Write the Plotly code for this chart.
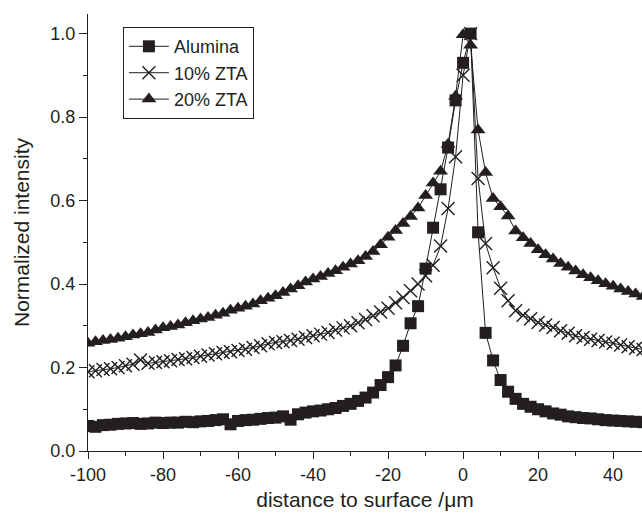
import plotly.graph_objects as go

x_um = [-100 + 2 * i for i in range(75)]  # -100 ... 48

alumina = [0.060, 0.058, 0.062, 0.063, 0.065, 0.066, 0.067, 0.065, 0.066, 0.068,
           0.067, 0.068, 0.068, 0.070, 0.069, 0.071, 0.072, 0.074, 0.076, 0.064,
           0.072, 0.074, 0.075, 0.077, 0.079, 0.080, 0.083, 0.075, 0.088, 0.092,
           0.095, 0.097, 0.100, 0.103, 0.108, 0.113, 0.120, 0.128, 0.140, 0.158,
           0.177, 0.205, 0.252, 0.306, 0.347, 0.437, 0.535, 0.627, 0.727, 0.840,
           0.930, 1.000, 0.524, 0.283, 0.217, 0.170, 0.142, 0.125, 0.113, 0.106,
           0.100, 0.095, 0.090, 0.087, 0.083, 0.081, 0.079, 0.078, 0.076, 0.074,
           0.073, 0.072, 0.071, 0.070, 0.069]

zta10 = [0.190, 0.192, 0.195, 0.197, 0.200, 0.204, 0.208, 0.218, 0.210, 0.212,
         0.214, 0.216, 0.219, 0.221, 0.224, 0.227, 0.230, 0.233, 0.236, 0.238,
         0.241, 0.244, 0.248, 0.252, 0.257, 0.260, 0.262, 0.265, 0.268, 0.272,
         0.276, 0.280, 0.284, 0.290, 0.295, 0.300, 0.307, 0.315, 0.324, 0.333,
         0.342, 0.355, 0.368, 0.384, 0.400, 0.420, 0.445, 0.491, 0.581, 0.705,
         0.900, 1.000, 0.653, 0.497, 0.439, 0.390, 0.360, 0.336, 0.325, 0.317,
         0.308, 0.302, 0.296, 0.288, 0.282, 0.276, 0.272, 0.268, 0.265, 0.261,
         0.258, 0.254, 0.250, 0.246, 0.243]

zta20 = [0.258, 0.262, 0.265, 0.267, 0.270, 0.274, 0.278, 0.281, 0.284, 0.290,
         0.295, 0.298, 0.302, 0.307, 0.312, 0.316, 0.320, 0.325, 0.330, 0.337,
         0.342, 0.347, 0.352, 0.360, 0.366, 0.372, 0.380, 0.388, 0.396, 0.405,
         0.412, 0.418, 0.425, 0.432, 0.440, 0.448, 0.456, 0.466, 0.478, 0.494,
         0.512, 0.528, 0.545, 0.562, 0.582, 0.612, 0.642, 0.670, 0.735, 0.850,
         0.997, 0.972, 0.769, 0.667, 0.605, 0.585, 0.563, 0.527, 0.511, 0.497,
         0.482, 0.470, 0.460, 0.449, 0.440, 0.431, 0.422, 0.415, 0.408, 0.401,
         0.395, 0.388, 0.382, 0.376, 0.370]

x_ticks = [-100, -80, -60, -40, -20, 0, 20, 40]
y_ticks = [0.0, 0.2, 0.4, 0.6, 0.8, 1.0]

FONT = "Liberation Sans, Arial, sans-serif"
C = "#231f20"

fig = go.Figure()
fig.add_trace(go.Scatter(x=x_um, y=alumina, name="Alumina", mode="lines+markers",
                         line=dict(color=C, width=1),
                         marker=dict(symbol="square", size=12, color=C)))
fig.add_trace(go.Scatter(x=x_um, y=zta10, name="10% ZTA", mode="lines+markers",
                         line=dict(color=C, width=1),
                         marker=dict(symbol="x-thin-open", size=13, color=C,
                                     line=dict(color=C, width=1.4))))
fig.add_trace(go.Scatter(x=x_um, y=zta20, name="20% ZTA", mode="lines+markers",
                         line=dict(color=C, width=1),
                         marker=dict(symbol="triangle-up", size=13, color=C)))

fig.update_layout(
    width=642, height=514,
    margin=dict(l=88, r=0, t=14, b=63),
    paper_bgcolor="white", plot_bgcolor="white",
    font=dict(family=FONT, size=18, color=C),
    showlegend=True,
    legend=dict(x=0.063, y=0.97, xanchor="left", yanchor="top",
                bordercolor=C, borderwidth=1, bgcolor="white",
                font=dict(size=18, family=FONT, color=C),
                tracegroupgap=0, itemwidth=40),
    xaxis=dict(range=[-100, 47.7], tickvals=x_ticks,
               ticktext=[str(v) for v in x_ticks],
               showgrid=False, zeroline=False, showline=True, linecolor=C,
               linewidth=1.3, ticks="outside", ticklen=7, tickwidth=1.3,
               tickcolor=C,
               minor=dict(dtick=10, tick0=-100, ticks="outside", ticklen=4,
                          tickwidth=1.2, tickcolor=C, showgrid=False),
               title=dict(text="distance to surface /μm", font=dict(size=21),
                          standoff=8),
               tickfont=dict(size=18), automargin=False),
    yaxis=dict(range=[0, 1.047], tickvals=y_ticks,
               ticktext=[f"{v:.1f}" for v in y_ticks],
               showgrid=False, zeroline=False, showline=True, linecolor=C,
               linewidth=1.3, ticks="outside", ticklen=8, tickwidth=1.3,
               tickcolor=C,
               minor=dict(dtick=0.1, tick0=0, ticks="outside", ticklen=4,
                          tickwidth=1.2, tickcolor=C, showgrid=False),
               title=dict(text="Normalized intensity", font=dict(size=21),
                          standoff=14),
               tickfont=dict(size=18), automargin=False),
)

fig.write_html("out.html")
